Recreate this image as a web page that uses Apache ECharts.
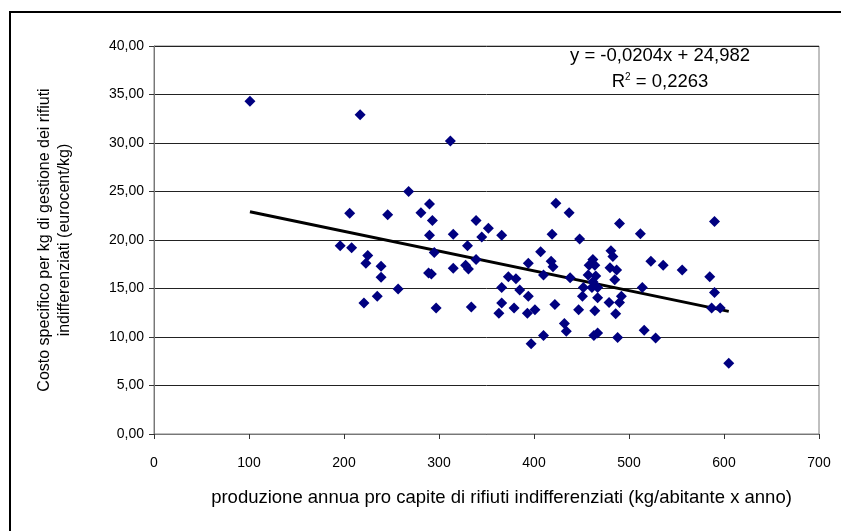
<!DOCTYPE html>
<html><head><meta charset="utf-8">
<script src="https://cdn.jsdelivr.net/npm/echarts@6/dist/echarts.min.js"></script>
<style>html,body{margin:0;padding:0;background:#fff}#c{width:841px;height:531px}</style>
</head><body><div id="c"></div>
<script>
// production per capita (kg/abitante x anno)
var xValues = [101,217,312,268,290,206,246,281,293,339,352,423,437,490,512,590,196,208,225,223,239,239,257,235,221,290,295,289,292,297,315,345,366,330,315,328,331,339,334,419,407,394,418,420,410,373,381,366,385,394,366,379,363,393,401,422,410,397,432,434,438,448,481,483,462,458,464,523,536,556,585,480,487,457,465,485,514,452,461,467,451,467,492,479,490,590,587,596,447,464,486,463,467,488,516,528,605,462];
// specific cost (eurocent/kg)
var yValues = [34.3,32.9,30.2,25.0,23.7,22.75,22.6,22.8,22.0,22.0,21.2,23.8,22.8,21.7,20.65,21.9,19.4,19.2,18.4,17.6,17.3,16.15,14.95,14.2,13.5,20.5,18.7,16.6,16.5,13.0,20.6,20.3,20.5,19.4,17.1,17.4,17.0,18.0,13.1,20.6,18.8,17.6,17.8,17.25,16.4,16.2,16.0,15.1,14.85,14.2,13.5,13.0,12.45,12.45,12.8,13.35,10.15,9.3,11.4,10.6,16.1,20.1,18.9,18.3,18.0,17.4,17.4,17.8,17.4,16.9,16.2,17.15,16.9,16.4,16.3,15.9,15.1,15.1,15.1,15.1,14.2,14.05,14.2,13.55,13.55,14.6,13.0,13.0,12.8,12.7,12.4,10.15,10.4,9.95,10.7,9.9,7.3,15.7];
var trendSlope = -0.0204, trendIntercept = 24.982;
var equationText = ['y = -0,0204x + 24,982', 'R{sup|2} = 0,2263'];
var xTitle = 'produzione annua pro capite di rifiuti indifferenziati (kg/abitante x anno)';
var yTitle = 'Costo specifico per kg di gestione dei rifiuti\nindifferenziati (eurocent/kg)';

var pts = xValues.map(function(x,i){return [x, yValues[i]];});
var xmin = Math.min.apply(null, xValues), xmax = Math.max.apply(null, xValues);
var trend = [[xmin, trendSlope*xmin+trendIntercept],[xmax, trendSlope*xmax+trendIntercept]];
var F = 'Liberation Sans, Arial, sans-serif';
var chart = echarts.init(document.getElementById('c'));
chart.setOption({
  animation:false,
  backgroundColor:'#fff',
  grid:{left:154, top:46, right:22, bottom:97, show:true, borderColor:'#808080', borderWidth:1},
  xAxis:{type:'value', min:0, max:700, interval:100,
    axisLine:{show:true, onZero:false, lineStyle:{color:'#777', width:1}},
    axisTick:{show:true, length:5, lineStyle:{color:'#333'}},
    splitLine:{show:false},
    axisLabel:{color:'#000', fontFamily:F, fontSize:14, margin:22},
    name:xTitle, nameLocation:'middle', nameGap:54,
    nameTextStyle:{color:'#000', fontFamily:F, fontSize:18.5, padding:[0,0,0,30]}},
  yAxis:{type:'value', min:0, max:40, interval:5,
    axisLine:{show:true, onZero:false, lineStyle:{color:'#777', width:1}},
    axisTick:{show:true, length:5, lineStyle:{color:'#333'}},
    splitLine:{show:true, lineStyle:{color:'#222', width:1}},
    axisLabel:{color:'#000', fontFamily:F, fontSize:14, margin:10,
      formatter:function(v){return v.toFixed(2).replace('.',',');}},
    name:yTitle, nameLocation:'middle', nameGap:79,
    nameTextStyle:{color:'#000', fontFamily:F, fontSize:16, lineHeight:20}},
  series:[
    {type:'line', data:trend, symbol:'none', lineStyle:{color:'#000', width:3}, z:3, silent:true},
    {type:'scatter', data:pts, symbol:'diamond', symbolSize:11, itemStyle:{color:'#000080', opacity:1}, z:4}
  ],
  graphic:[
    {type:'rect', shape:{x:10, y:12, width:900, height:700}, style:{fill:'none', stroke:'#000', lineWidth:2}, z:100},
    {type:'text', x:660, y:56, style:{text:equationText[0], font:'18.5px '+F, fill:'#000', align:'center', verticalAlign:'middle'}},
    {type:'text', x:660, y:82, style:{text:equationText[1], font:'18.5px '+F, fill:'#000', align:'center', verticalAlign:'middle',
      rich:{sup:{fontSize:10, verticalAlign:'top', lineHeight:10, fontFamily:F}}}}
  ]
});
</script></body></html>
